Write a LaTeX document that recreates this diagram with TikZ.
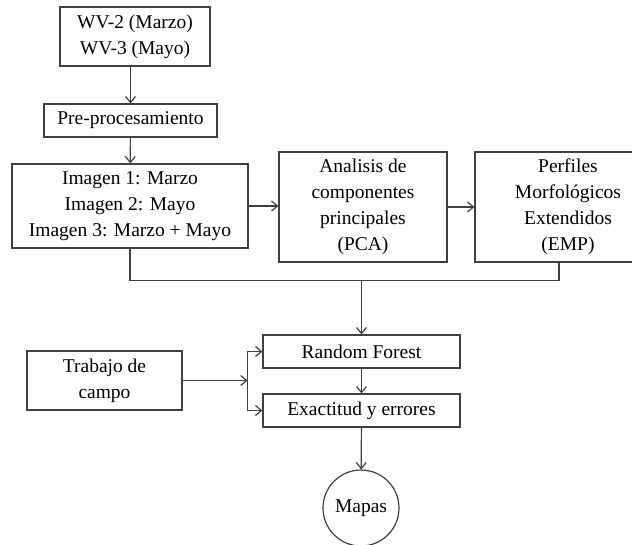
\documentclass[tikz,border=0pt]{standalone}
\usepackage{fontspec}
\setmainfont{Liberation Serif}
\usetikzlibrary{arrows.meta}

\begin{document}
\begin{tikzpicture}[x=1pt, y=-1pt,
    caja/.style={draw=black!75, line width=1.2pt, align=center, inner sep=0pt,
        font=\fontsize{19.5}{26}\selectfont},
    linea/.style={draw=black!75, line width=1.2pt},
    flecha/.style={linea, -{Straight Barb[length=6pt, width=10pt]}}]
    \useasboundingbox (0,0) rectangle (632,544);

    % Imagenes de entrada
    \node[caja, minimum width=150pt, minimum height=59pt] (wv) at (135,36.5) {WV-2 (Marzo)\\WV-3 (Mayo)};
    \node[caja, minimum width=173pt, minimum height=33pt] (pre) at (130.5,120.5) {Pre-procesamiento};
    \node[caja, minimum width=236pt, minimum height=84pt] (img) at (130,206) {Imagen 1: Marzo\\Imagen 2: Mayo\\Imagen 3: Marzo + Mayo};

    % Extraccion de caracteristicas
    \node[caja, minimum width=168pt, minimum height=110pt] (pca) at (363,207) {Analisis de\\componentes\\principales\\(PCA)};
    \node[caja, minimum width=186pt, minimum height=110pt] (emp) at (568,207) {Perfiles\\Morfológicos\\Extendidos\\(EMP)};

    % Clasificacion
    \node[caja, minimum width=155pt, minimum height=59pt] (trab) at (104.5,380.5) {Trabajo de\\campo};
    \node[caja, minimum width=197pt, minimum height=33pt] (rf) at (361.5,351.5) {Random Forest};
    \node[caja, minimum width=197pt, minimum height=33pt] (ex) at (361.5,410.5) {Exactitud y errores};
    \node[caja, circle, minimum size=76pt] (mapas) at (361,508) {Mapas};

    % Conexiones
    \draw[flecha] (wv.south -| pre.north) -- (pre.north);
    \draw[flecha] (pre) -- (img);
    \draw[flecha] (img.east) -- (img.east -| pca.west);
    \draw[flecha] (pca.east) -- (pca.east -| emp.west);
    \draw[linea] (img.south) -- ++(0,32) coordinate (bus) -| ([xshift=-9pt]emp.south);
    \draw[flecha] (bus -| rf.north) -- (rf.north);
    \draw[flecha] (trab.east) -- ++(65,0) coordinate (rama);
    \draw[flecha] (rama) |- (rf.west);
    \draw[flecha] (rama) |- (ex.west);
    \draw[flecha] (rf) -- (ex);
    \draw[flecha] (ex) -- (mapas);
\end{tikzpicture}
\end{document}
